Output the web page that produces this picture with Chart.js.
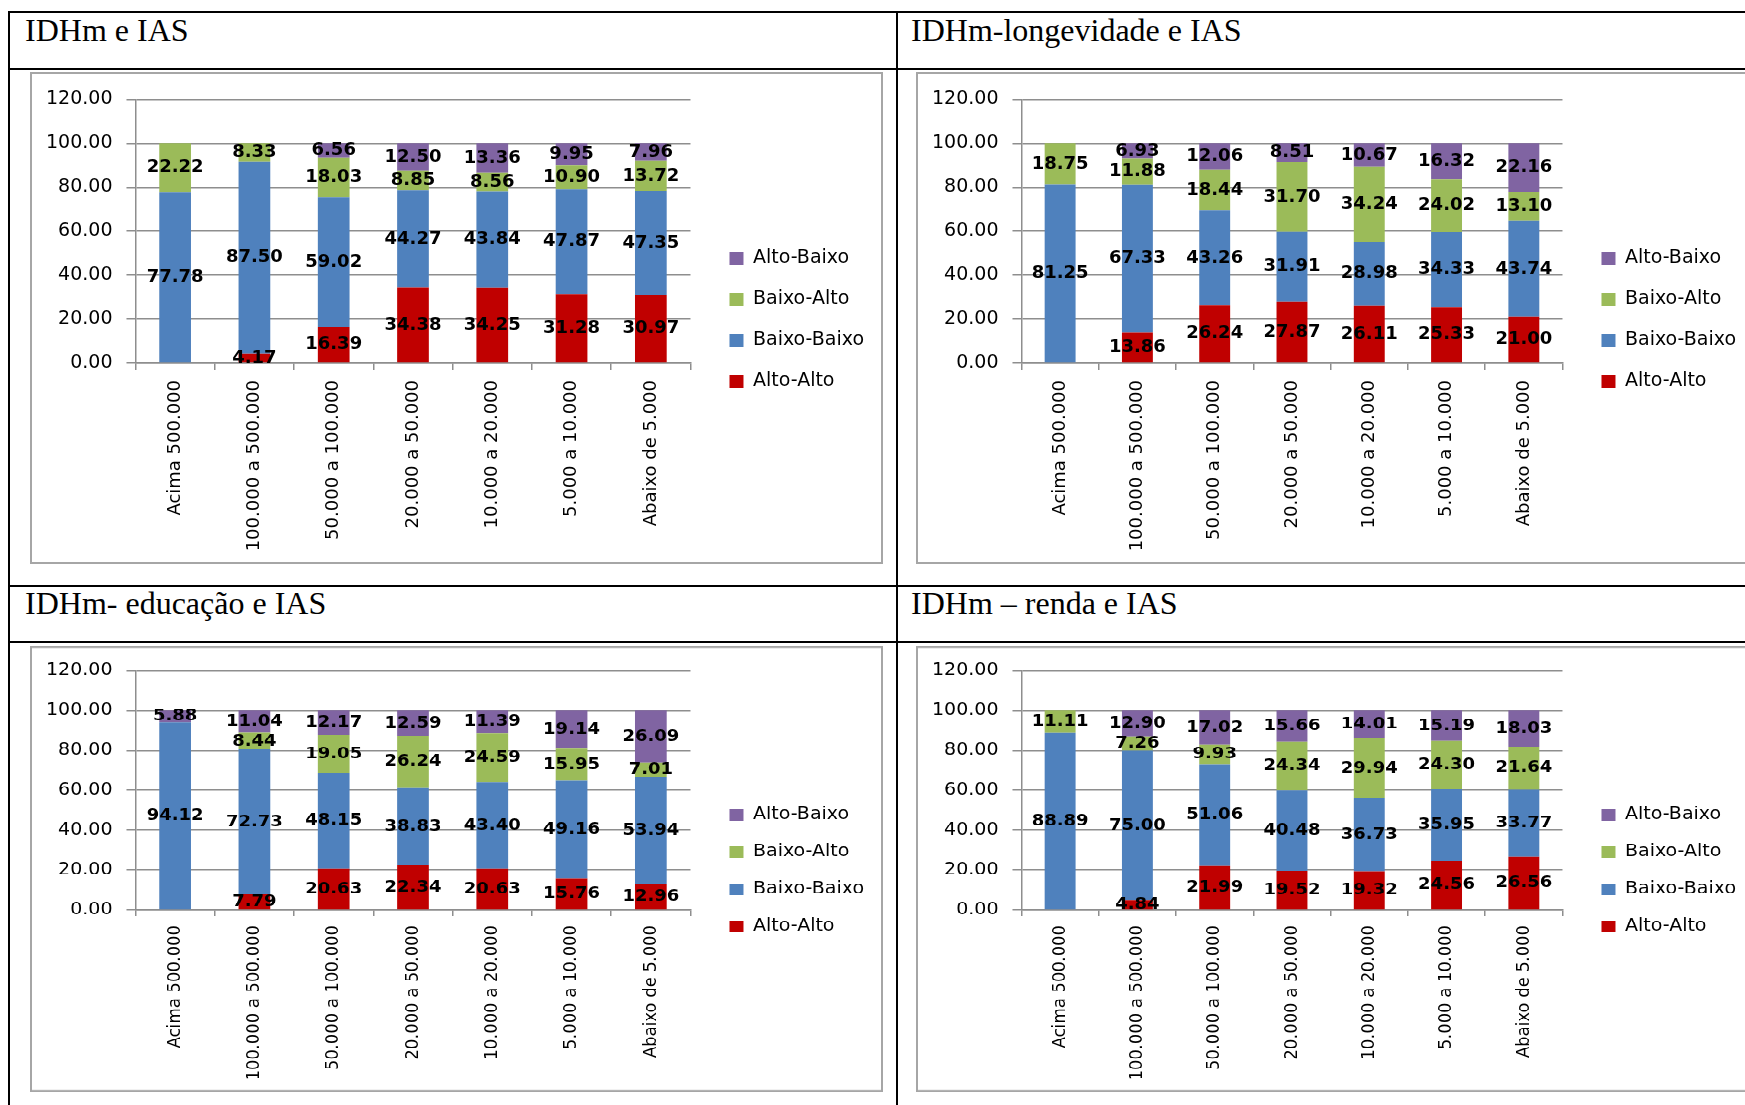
<!DOCTYPE html>
<html lang="pt-BR">
<head>
<meta charset="utf-8">
<title>IDHm e IAS por porte de município</title>
<script src="https://cdn.jsdelivr.net/npm/chart.js@4.4.1/dist/chart.umd.min.js"></script>
<style>
    body {
        margin: 0;
        width: 1745px;
        height: 1105px;
        overflow: hidden;
        position: relative;
        background: #fff;
        font-family: "Liberation Serif", "Times New Roman", serif;
    }
    .linha { position: absolute; background: #000; }
    .titulo { position: absolute; font-size: 32px; line-height: 32px; color: #000; white-space: nowrap; }
    .quadro { position: absolute; box-sizing: border-box; border: 2px solid #a6a6a6; background: #fff; overflow: hidden; }
    .quadro canvas { position: absolute; left: 0; top: 0; }
    .metade-baixo {
        position: absolute; left: 0; top: 646px; width: 1745px; height: 492px;
        transform: scaleY(0.9065); transform-origin: 0 0;
    }
</style>
</head>
<body>

<div class="linha" style="left:8px; top:11px; width:1745px; height:2px;"></div>
<div class="linha" style="left:8px; top:11px; width:2px; height:1100px;"></div>
<div class="linha" style="left:896px; top:11px; width:2px; height:1100px;"></div>
<div class="linha" style="left:8px; top:68px; width:1745px; height:2px;"></div>
<div class="linha" style="left:8px; top:585px; width:1745px; height:2px;"></div>
<div class="linha" style="left:8px; top:641px; width:1745px; height:2px;"></div>

<div class="titulo" style="left:25px; top:14px;">IDHm e IAS</div>
<div class="titulo" style="left:911px; top:14px;">IDHm-longevidade e IAS</div>
<div class="titulo" style="left:25px; top:587px;">IDHm- educação e IAS</div>
<div class="titulo" style="left:911px; top:587px;">IDHm – renda e IAS</div>

<div class="quadro" style="left:30px; top:72px; width:853px; height:492px;">
    <canvas id="grafico-idhm" width="849" height="488"></canvas>
</div>
<div class="quadro" style="left:916px; top:72px; width:900px; height:492px;">
    <canvas id="grafico-longevidade" width="835" height="488"></canvas>
</div>

<div class="metade-baixo">
    <div class="quadro" style="left:30px; top:0; width:853px; height:492px;">
        <canvas id="grafico-educacao" width="849" height="488"></canvas>
    </div>
    <div class="quadro" style="left:916px; top:0; width:900px; height:492px;">
        <canvas id="grafico-renda" width="835" height="488"></canvas>
    </div>
</div>

<script>
const FAIXAS = [
    'Acima 500.000', '100.000 a 500.000', '50.000 a 100.000', '20.000 a 50.000',
    '10.000 a 20.000', '5.000 a 10.000', 'Abaixo de 5.000',
];
const SERIES = ['Alto-Alto', 'Baixo-Baixo', 'Baixo-Alto', 'Alto-Baixo'];
const CORES = ['#c00000', '#4f81bd', '#9bbb59', '#8064a2'];
const Y_TICKS = [0, 20, 40, 60, 80, 100, 120];

// IDHm e IAS
const idhmAltoAlto = [0, 4.17, 16.39, 34.38, 34.25, 31.28, 30.97];
const idhmBaixoBaixo = [77.78, 87.50, 59.02, 44.27, 43.84, 47.87, 47.35];
const idhmBaixoAlto = [22.22, 8.33, 18.03, 8.85, 8.56, 10.90, 13.72];
const idhmAltoBaixo = [0, 0, 6.56, 12.50, 13.36, 9.95, 7.96];

// IDHm-longevidade e IAS
const longAltoAlto = [0, 13.86, 26.24, 27.87, 26.11, 25.33, 21.00];
const longBaixoBaixo = [81.25, 67.33, 43.26, 31.91, 28.98, 34.33, 43.74];
const longBaixoAlto = [18.75, 11.88, 18.44, 31.70, 34.24, 24.02, 13.10];
const longAltoBaixo = [0, 6.93, 12.06, 8.51, 10.67, 16.32, 22.16];

// IDHm- educação e IAS
const educAltoAlto = [0, 7.79, 20.63, 22.34, 20.63, 15.76, 12.96];
const educBaixoBaixo = [94.12, 72.73, 48.15, 38.83, 43.40, 49.16, 53.94];
const educBaixoAlto = [0, 8.44, 19.05, 26.24, 24.59, 15.95, 7.01];
const educAltoBaixo = [5.88, 11.04, 12.17, 12.59, 11.39, 19.14, 26.09];

// IDHm – renda e IAS
const rendaAltoAlto = [0, 4.84, 21.99, 19.52, 19.32, 24.56, 26.56];
const rendaBaixoBaixo = [88.89, 75.00, 51.06, 40.48, 36.73, 35.95, 33.77];
const rendaBaixoAlto = [11.11, 7.26, 9.93, 24.34, 29.94, 24.30, 21.64];
const rendaAltoBaixo = [0, 12.90, 17.02, 15.66, 14.01, 15.19, 18.03];

const COR_GRADE = '#8e8e8e';
const FONTE = 'DejaVu Sans';

// escreve o valor no meio de cada pedaço da barra
const rotulosValores = {
    id: 'rotulosValores',
    afterDatasetsDraw(chart) {
        const ctx = chart.ctx;
        ctx.save();
        ctx.font = `bold 18px "${FONTE}"`;
        ctx.fillStyle = '#000';
        ctx.textAlign = 'center';
        ctx.textBaseline = 'middle';
        chart.data.datasets.forEach((ds, i) => {
            chart.getDatasetMeta(i).data.forEach((barra, j) => {
                const valor = ds.data[j];
                if (!valor) return;
                const { x, y, base } = barra.getProps(['x', 'y', 'base'], true);
                ctx.fillText(valor.toFixed(2), x, (y + base) / 2);
            });
        });
        ctx.restore();
    },
};

function criarGrafico(idCanvas, valores) {
    const datasets = SERIES.map((nome, i) => ({
        label: nome,
        data: valores[i],
        backgroundColor: CORES[i],
        borderWidth: 0,
        categoryPercentage: 0.4,
        barPercentage: 1,
    }));

    return new Chart(document.getElementById(idCanvas), {
        type: 'bar',
        data: { labels: FAIXAS, datasets },
        plugins: [rotulosValores],
        options: {
            responsive: false,
            animation: false,
            layout: { padding: { left: 0, top: 8, right: 7, bottom: 4 } },
            scales: {
                x: {
                    stacked: true,
                    afterFit: (escala) => { escala.height = 195; },
                    grid: { drawOnChartArea: false, tickLength: 7, color: COR_GRADE, lineWidth: 1.5 },
                    border: { color: COR_GRADE, width: 1.5 },
                    ticks: {
                        autoSkip: false, minRotation: 90, maxRotation: 90, padding: 10,
                        color: '#000', font: { family: FONTE, size: 18 },
                    },
                },
                y: {
                    stacked: true,
                    min: Y_TICKS[0],
                    max: Y_TICKS[Y_TICKS.length - 1],
                    afterBuildTicks: (escala) => { escala.ticks = Y_TICKS.map((v) => ({ value: v })); },
                    grid: { color: COR_GRADE, lineWidth: 1.5, tickLength: 9 },
                    border: { color: COR_GRADE, width: 1.5 },
                    ticks: {
                        padding: 14, color: '#000', font: { family: FONTE, size: 19 },
                        callback: (v) => Number(v).toFixed(2),
                    },
                },
                // só abre espaço entre a área do gráfico e a legenda
                espaco: {
                    position: 'right',
                    display: true,
                    grid: { display: false },
                    border: { display: false },
                    ticks: { display: false },
                    afterFit: (escala) => { escala.width = 17; },
                },
            },
            plugins: {
                legend: {
                    position: 'right',
                    reverse: true,
                    maxWidth: 240,
                    labels: {
                        boxWidth: 14, boxHeight: 13, padding: 22,
                        color: '#000', font: { family: FONTE, size: 19 },
                    },
                },
                tooltip: { enabled: false },
            },
        },
    });
}

criarGrafico('grafico-idhm', [idhmAltoAlto, idhmBaixoBaixo, idhmBaixoAlto, idhmAltoBaixo]);
criarGrafico('grafico-longevidade', [longAltoAlto, longBaixoBaixo, longBaixoAlto, longAltoBaixo]);
criarGrafico('grafico-educacao', [educAltoAlto, educBaixoBaixo, educBaixoAlto, educAltoBaixo]);
criarGrafico('grafico-renda', [rendaAltoAlto, rendaBaixoBaixo, rendaBaixoAlto, rendaAltoBaixo]);
</script>
</body>
</html>
